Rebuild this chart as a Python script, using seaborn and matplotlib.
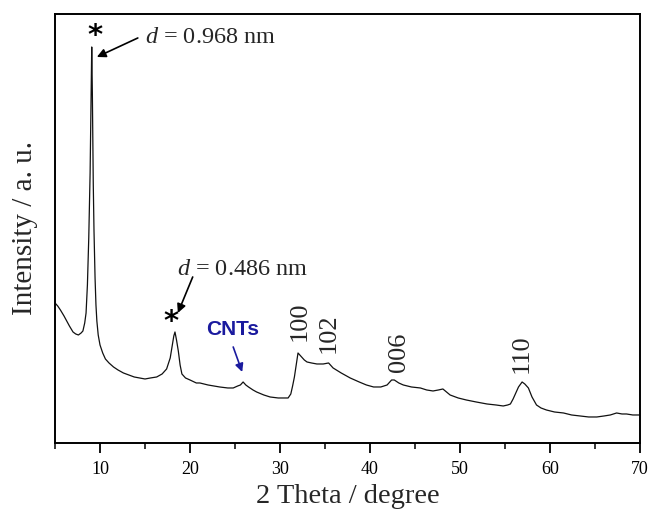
import matplotlib
matplotlib.use("Agg")
import matplotlib.pyplot as plt
from matplotlib.ticker import MultipleLocator
import numpy as np
import pandas as pd
import seaborn as sns

# XRD pattern: 2-theta (degree) and intensity (a. u.)
two_theta = [
    5.0, 5.3, 5.6, 6.0, 6.3, 6.6, 7.0, 7.3, 7.6, 7.9, 8.1, 8.3, 8.45, 8.6, 8.75,
    8.9, 9.0, 9.08, 9.15, 9.25, 9.33, 9.45, 9.55, 9.65, 9.8, 10.0, 10.3, 10.6,
    11.0, 11.5, 12.0, 12.6, 13.2, 13.8, 14.4, 15.0, 15.6, 16.3, 16.9, 17.4, 17.8,
    18.0, 18.2, 18.33, 18.5, 18.7, 18.9, 19.1, 19.5, 20.0, 20.7, 21.1, 22.0, 23.3,
    24.2, 24.8, 25.3, 25.6, 25.9, 26.2, 26.5, 27.0, 27.4, 28.2, 28.9, 29.8, 30.5,
    30.9, 31.2, 31.4, 31.6, 31.8, 32.0, 32.2, 32.4, 32.7, 33.0, 33.5, 34.1, 34.8,
    35.4, 35.9, 36.8, 37.8, 38.8, 39.6, 40.4, 41.2, 41.9, 42.4, 42.7, 43.2, 43.7,
    44.6, 45.6, 46.3, 47.0, 47.6, 48.1, 48.5, 48.9, 49.8, 50.7, 51.8, 53.0, 54.0,
    54.8, 55.3, 55.6, 55.9, 56.1, 56.5, 56.9, 57.2, 57.6, 58.0, 58.5, 59.0, 59.6,
    60.5, 61.5, 62.4, 63.3, 64.3, 65.2, 66.0, 66.7, 67.4, 68.0, 68.5, 69.2, 70.0,
]
intensity = [
    140, 137, 133, 127, 122, 117, 111, 109, 108, 110, 112, 120, 130, 158, 205,
    270, 340, 396, 350, 260, 213, 165, 138, 122, 108, 98, 90, 84,
    80, 76, 73, 70, 68, 66, 65, 64, 65, 66, 69, 74, 85,
    96, 107, 111, 103, 92, 78, 69, 65, 63, 60, 60, 58, 56,
    55, 55, 57, 58, 61, 58, 56, 53, 51, 48, 46, 45, 45,
    45, 49, 57, 66, 78, 90, 88, 86, 83, 81, 80, 79, 79,
    80, 75, 70, 65, 61, 58, 56, 56, 58, 63, 63, 60, 58,
    56, 55, 53, 52, 53, 54, 51, 48, 45, 43, 41, 39, 38,
    37, 38, 39, 44, 48, 56, 61, 59, 55, 46, 38, 35, 33,
    31, 30, 28, 27, 26, 26, 27, 28, 30, 29, 29, 28, 28,
]

# Reflection (hkl) labels and where they sit
hkl_labels = ["100", "102", "006", "110"]
hkl_x = [32.2, 35.4, 43.2, 56.9]
hkl_y = [122, 110, 91, 89]

# d-spacing annotations
d_texts = [r"$\it{d}$ = 0.968 nm", r"$\it{d}$ = 0.486 nm"]
d_text_xy = [(15.0, 400), (18.55, 168)]
d_arrow_tail = [(14.2, 405), (20.3, 166)]
d_arrow_head = [(9.65, 386), (18.65, 130)]
star_xy = [(9.5, 407), (17.9, 121)]

x_ticks = [10, 20, 30, 40, 50, 60, 70]

sns.set_style("ticks")
plt.rcParams["font.family"] = ["Liberation Serif", "DejaVu Serif"]
plt.rcParams["mathtext.fontset"] = "custom"
plt.rcParams["mathtext.rm"] = "Liberation Serif"
plt.rcParams["mathtext.it"] = "Liberation Serif:italic"

df = pd.DataFrame({"two_theta": two_theta, "intensity": intensity})

fig = plt.figure(figsize=(6.51, 5.12), dpi=100)
ax = fig.add_axes([0.0845, 0.1348, 0.8986, 0.8379])

sns.lineplot(data=df, x="two_theta", y="intensity", ax=ax,
             color="#111111", linewidth=0.9, estimator=None, sort=False)

ax.set_xlim(5, 70)
ax.set_ylim(0, 429)
ax.set_xticks(x_ticks)
ax.xaxis.set_minor_locator(MultipleLocator(5))
ax.set_yticks([])
ax.tick_params(axis="x", which="major", direction="out", length=7,
               width=1.3, labelsize=13, pad=6, colors="black")
ax.tick_params(axis="x", which="minor", direction="out", length=4, width=1.3)
for sp in ax.spines.values():
    sp.set_visible(True)
    sp.set_linewidth(1.4)
    sp.set_color("black")

ax.set_xlabel("2 Theta / degree", fontsize=20.5, labelpad=4)
ax.set_ylabel("Intensity / a. u.", fontsize=21, labelpad=12)

# peak markers and d-spacing callouts
for (sx, sy) in star_xy:
    ax.text(sx, sy, "*", fontsize=21, fontweight="bold", ha="center",
            va="center", family="DejaVu Sans", color="black")
for txt, (tx, ty), tail, head in zip(d_texts, d_text_xy, d_arrow_tail, d_arrow_head):
    ax.text(tx, ty, txt, fontsize=17.5, ha="left", va="baseline")
    ax.annotate("", xy=head, xytext=tail,
                arrowprops=dict(arrowstyle="-|>", color="black", lw=1.2,
                                mutation_scale=13, shrinkA=0, shrinkB=0))

# CNT reflection
ax.text(24.7, 113, "CNTs", fontsize=15, fontweight="bold", color="#1a1a9e",
        ha="center", va="center", family="Liberation Sans")
ax.annotate("", xy=(25.8, 71), xytext=(24.8, 96),
            arrowprops=dict(arrowstyle="-|>", color="#1a1a9e", lw=1.2,
                            mutation_scale=12, shrinkA=0, shrinkB=0))

for lab, hx, hy in zip(hkl_labels, hkl_x, hkl_y):
    ax.text(hx, hy, lab, fontsize=19, rotation=90, ha="center", va="center")

fig.savefig("out.png", dpi=100)
